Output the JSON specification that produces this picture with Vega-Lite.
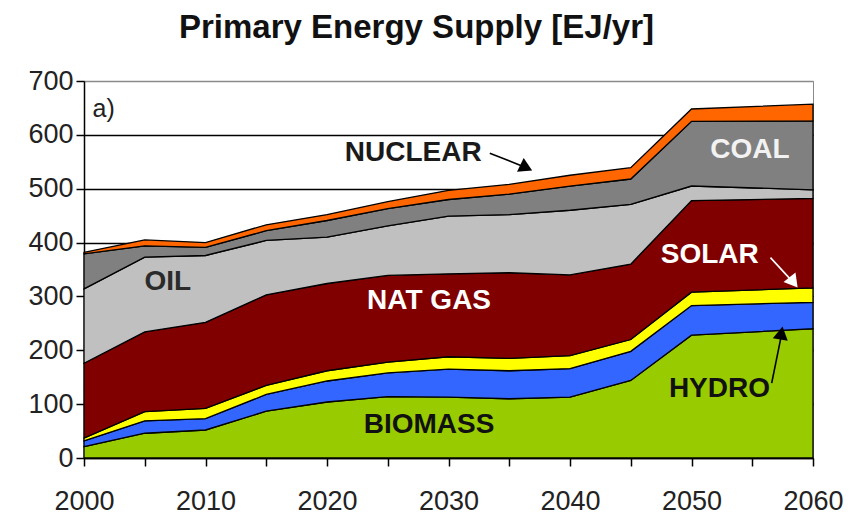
{
  "$schema": "https://vega.github.io/schema/vega-lite/v6.json",
  "width": 729,
  "height": 377,
  "autosize": {"type": "none"},
  "padding": {"left": 84, "top": 81, "right": 36, "bottom": 58},
  "background": "white",
  "view": {"stroke": "#8a8a8a", "strokeWidth": 1},
  "title": {
    "text": "Primary Energy Supply [EJ/yr]",
    "font": "Liberation Sans",
    "fontSize": 33,
    "fontWeight": "bold",
    "color": "#111111",
    "anchor": "middle",
    "dx": -32,
    "offset": 22
  },
  "config": {
    "font": "Liberation Sans",
    "axis": {
      "labelFont": "Liberation Sans",
      "labelFontSize": 27,
      "labelColor": "#222222",
      "domainColor": "#000000",
      "domainWidth": 1.5,
      "tickColor": "#000000",
      "tickWidth": 1.5,
      "tickSize": 8,
      "title": null
    }
  },
  "datasets": {
    "energy": [
      {"year": 2000, "source": "Biomass", "ord": 1, "value": 21},
      {"year": 2000, "source": "Hydro", "ord": 2, "value": 11},
      {"year": 2000, "source": "Solar", "ord": 3, "value": 5},
      {"year": 2000, "source": "Nat Gas", "ord": 4, "value": 139},
      {"year": 2000, "source": "Oil", "ord": 5, "value": 138},
      {"year": 2000, "source": "Coal", "ord": 6, "value": 65},
      {"year": 2000, "source": "Nuclear", "ord": 7, "value": 3},
      {"year": 2005, "source": "Biomass", "ord": 1, "value": 46},
      {"year": 2005, "source": "Hydro", "ord": 2, "value": 23},
      {"year": 2005, "source": "Solar", "ord": 3, "value": 17},
      {"year": 2005, "source": "Nat Gas", "ord": 4, "value": 148},
      {"year": 2005, "source": "Oil", "ord": 5, "value": 139},
      {"year": 2005, "source": "Coal", "ord": 6, "value": 21},
      {"year": 2005, "source": "Nuclear", "ord": 7, "value": 11},
      {"year": 2010, "source": "Biomass", "ord": 1, "value": 52},
      {"year": 2010, "source": "Hydro", "ord": 2, "value": 21},
      {"year": 2010, "source": "Solar", "ord": 3, "value": 19},
      {"year": 2010, "source": "Nat Gas", "ord": 4, "value": 160},
      {"year": 2010, "source": "Oil", "ord": 5, "value": 124},
      {"year": 2010, "source": "Coal", "ord": 6, "value": 15},
      {"year": 2010, "source": "Nuclear", "ord": 7, "value": 9},
      {"year": 2015, "source": "Biomass", "ord": 1, "value": 87},
      {"year": 2015, "source": "Hydro", "ord": 2, "value": 31},
      {"year": 2015, "source": "Solar", "ord": 3, "value": 17},
      {"year": 2015, "source": "Nat Gas", "ord": 4, "value": 168},
      {"year": 2015, "source": "Oil", "ord": 5, "value": 101},
      {"year": 2015, "source": "Coal", "ord": 6, "value": 18},
      {"year": 2015, "source": "Nuclear", "ord": 7, "value": 11},
      {"year": 2020, "source": "Biomass", "ord": 1, "value": 104},
      {"year": 2020, "source": "Hydro", "ord": 2, "value": 39},
      {"year": 2020, "source": "Solar", "ord": 3, "value": 19},
      {"year": 2020, "source": "Nat Gas", "ord": 4, "value": 162},
      {"year": 2020, "source": "Oil", "ord": 5, "value": 86},
      {"year": 2020, "source": "Coal", "ord": 6, "value": 31},
      {"year": 2020, "source": "Nuclear", "ord": 7, "value": 11},
      {"year": 2025, "source": "Biomass", "ord": 1, "value": 114},
      {"year": 2025, "source": "Hydro", "ord": 2, "value": 44},
      {"year": 2025, "source": "Solar", "ord": 3, "value": 20},
      {"year": 2025, "source": "Nat Gas", "ord": 4, "value": 161},
      {"year": 2025, "source": "Oil", "ord": 5, "value": 92},
      {"year": 2025, "source": "Coal", "ord": 6, "value": 32},
      {"year": 2025, "source": "Nuclear", "ord": 7, "value": 13},
      {"year": 2030, "source": "Biomass", "ord": 1, "value": 113},
      {"year": 2030, "source": "Hydro", "ord": 2, "value": 52},
      {"year": 2030, "source": "Solar", "ord": 3, "value": 23},
      {"year": 2030, "source": "Nat Gas", "ord": 4, "value": 154},
      {"year": 2030, "source": "Oil", "ord": 5, "value": 107},
      {"year": 2030, "source": "Coal", "ord": 6, "value": 31},
      {"year": 2030, "source": "Nuclear", "ord": 7, "value": 17},
      {"year": 2035, "source": "Biomass", "ord": 1, "value": 110},
      {"year": 2035, "source": "Hydro", "ord": 2, "value": 52},
      {"year": 2035, "source": "Solar", "ord": 3, "value": 23},
      {"year": 2035, "source": "Nat Gas", "ord": 4, "value": 159},
      {"year": 2035, "source": "Oil", "ord": 5, "value": 108},
      {"year": 2035, "source": "Coal", "ord": 6, "value": 38},
      {"year": 2035, "source": "Nuclear", "ord": 7, "value": 18},
      {"year": 2040, "source": "Biomass", "ord": 1, "value": 113},
      {"year": 2040, "source": "Hydro", "ord": 2, "value": 53},
      {"year": 2040, "source": "Solar", "ord": 3, "value": 24},
      {"year": 2040, "source": "Nat Gas", "ord": 4, "value": 150},
      {"year": 2040, "source": "Oil", "ord": 5, "value": 120},
      {"year": 2040, "source": "Coal", "ord": 6, "value": 45},
      {"year": 2040, "source": "Nuclear", "ord": 7, "value": 20},
      {"year": 2045, "source": "Biomass", "ord": 1, "value": 144},
      {"year": 2045, "source": "Hydro", "ord": 2, "value": 54},
      {"year": 2045, "source": "Solar", "ord": 3, "value": 22},
      {"year": 2045, "source": "Nat Gas", "ord": 4, "value": 140},
      {"year": 2045, "source": "Oil", "ord": 5, "value": 111},
      {"year": 2045, "source": "Coal", "ord": 6, "value": 47},
      {"year": 2045, "source": "Nuclear", "ord": 7, "value": 21},
      {"year": 2050, "source": "Biomass", "ord": 1, "value": 228},
      {"year": 2050, "source": "Hydro", "ord": 2, "value": 55},
      {"year": 2050, "source": "Solar", "ord": 3, "value": 25},
      {"year": 2050, "source": "Nat Gas", "ord": 4, "value": 170},
      {"year": 2050, "source": "Oil", "ord": 5, "value": 27},
      {"year": 2050, "source": "Coal", "ord": 6, "value": 120},
      {"year": 2050, "source": "Nuclear", "ord": 7, "value": 23},
      {"year": 2060, "source": "Biomass", "ord": 1, "value": 240},
      {"year": 2060, "source": "Hydro", "ord": 2, "value": 49},
      {"year": 2060, "source": "Solar", "ord": 3, "value": 27},
      {"year": 2060, "source": "Nat Gas", "ord": 4, "value": 166},
      {"year": 2060, "source": "Oil", "ord": 5, "value": 16},
      {"year": 2060, "source": "Coal", "ord": 6, "value": 128},
      {"year": 2060, "source": "Nuclear", "ord": 7, "value": 31}
    ],
    "labels": [
      {"label": "NUCLEAR", "year": 2027.1, "value": 566, "color": "#1a1a1a"},
      {"label": "COAL", "year": 2054.8, "value": 571, "color": "#f2f2f2"},
      {"label": "OIL", "year": 2006.9, "value": 326, "color": "#2b2b2b"},
      {"label": "NAT GAS", "year": 2028.4, "value": 291, "color": "#ffffff"},
      {"label": "SOLAR", "year": 2051.5, "value": 376, "color": "#ffffff"},
      {"label": "HYDRO", "year": 2052.3, "value": 128, "color": "#111111"},
      {"label": "BIOMASS", "year": 2028.4, "value": 61, "color": "#111111"}
    ],
    "arrows": [
      {"year": 2033.4, "value": 566, "year2": 2036.2, "value2": 541, "color": "#000000"},
      {"year": 2056.5, "value": 372, "year2": 2058.3, "value2": 328, "color": "#ffffff"},
      {"year": 2056.6, "value": 139, "year2": 2057.4, "value2": 228, "color": "#000000"}
    ],
    "heads": [
      {"year": 2036.4, "value": 539, "angle": 26, "color": "#000000"},
      {"year": 2058.4, "value": 326, "angle": 52, "color": "#ffffff"},
      {"year": 2057.4, "value": 232, "angle": 280, "color": "#000000"}
    ]
  },
  "layer": [
    {
      "data": {"name": "energy"},
      "mark": {"type": "area", "stroke": "#000000", "strokeWidth": 1.3, "interpolate": "linear"},
      "encoding": {
        "x": {
          "field": "year", "type": "quantitative",
          "scale": {"domain": [2000, 2060], "nice": false, "zero": false},
          "axis": {
            "values": [2000, 2005, 2010, 2015, 2020, 2025, 2030, 2035, 2040, 2045, 2050, 2055, 2060],
            "labelExpr": "datum.value % 10 == 0 ? datum.value : ''",
            "grid": false,
            "labelPadding": 22,
            "labelFlush": false,
            "labelOverlap": false
          }
        },
        "y": {
          "field": "value", "type": "quantitative", "stack": "zero",
          "scale": {"domain": [0, 700], "nice": false},
          "axis": {
            "values": [0, 100, 200, 300, 400, 500, 600, 700],
            "grid": true,
            "gridColor": {"condition": {"test": "datum.value == 700", "value": "#8a8a8a"}, "value": "#000000"},
            "gridWidth": 1.3,
            "labelPadding": 3
          }
        },
        "color": {
          "field": "source", "type": "nominal",
          "scale": {
            "domain": ["Biomass", "Hydro", "Solar", "Nat Gas", "Oil", "Coal", "Nuclear"],
            "range": ["#99cc00", "#3366ff", "#ffff00", "#800000", "#c0c0c0", "#808080", "#ff6600"]
          },
          "legend": null
        },
        "order": {"field": "ord", "type": "quantitative", "sort": "ascending"}
      }
    },
    {
      "data": {"name": "arrows"},
      "mark": {"type": "rule", "strokeWidth": 1.6},
      "encoding": {
        "x": {"field": "year", "type": "quantitative"},
        "y": {"field": "value", "type": "quantitative"},
        "x2": {"field": "year2"},
        "y2": {"field": "value2"},
        "color": {"field": "color", "type": "nominal", "scale": null}
      }
    },
    {
      "data": {"name": "heads"},
      "mark": {"type": "point", "shape": "triangle-right", "filled": true, "size": 230, "opacity": 1},
      "encoding": {
        "x": {"field": "year", "type": "quantitative"},
        "y": {"field": "value", "type": "quantitative"},
        "angle": {"field": "angle", "type": "quantitative", "scale": null},
        "color": {"field": "color", "type": "nominal", "scale": null}
      }
    },
    {
      "data": {"name": "labels"},
      "mark": {"type": "text", "font": "Liberation Sans", "fontSize": 28, "fontWeight": "bold", "align": "center", "baseline": "middle"},
      "encoding": {
        "x": {"field": "year", "type": "quantitative"},
        "y": {"field": "value", "type": "quantitative"},
        "text": {"field": "label"},
        "color": {"field": "color", "type": "nominal", "scale": null}
      }
    },
    {
      "data": {"values": [{"label": "a)", "year": 2000.7, "value": 633}]},
      "mark": {"type": "text", "font": "Liberation Sans", "fontSize": 25, "align": "left", "baseline": "alphabetic", "color": "#222222"},
      "encoding": {
        "x": {"field": "year", "type": "quantitative"},
        "y": {"field": "value", "type": "quantitative"},
        "text": {"field": "label"}
      }
    }
  ]
}
